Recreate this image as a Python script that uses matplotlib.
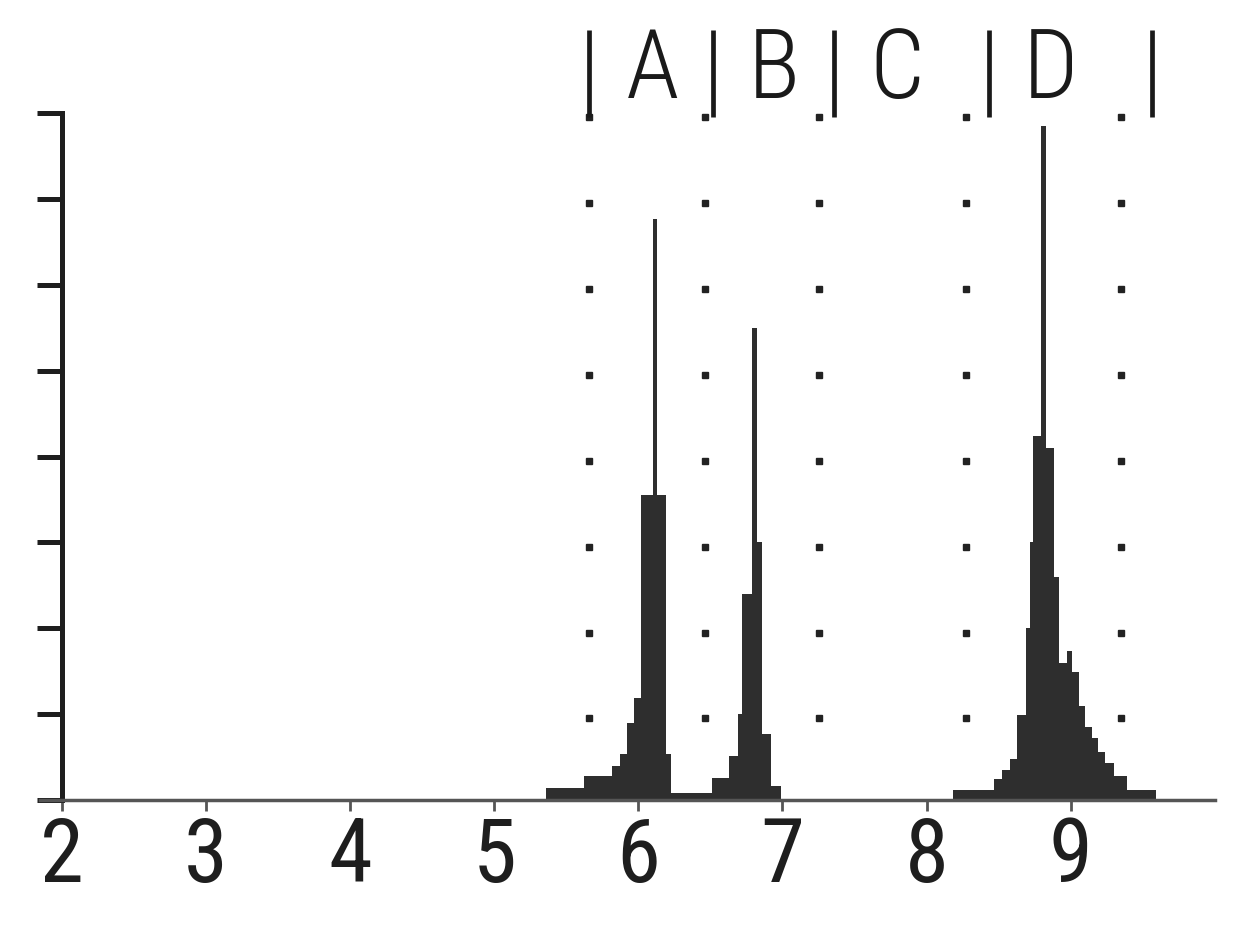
import matplotlib
matplotlib.use("Agg")
import matplotlib.pyplot as plt

# ---- data ----
ab_edges = [5.36, 5.62, 5.82, 5.87, 5.92, 5.97, 6.02, 6.10, 6.13, 6.19, 6.23,
            6.51, 6.63, 6.69, 6.72, 6.79, 6.82, 6.86, 6.92, 6.99]
ab_counts = [0.14, 0.28, 0.40, 0.53, 0.90, 1.19, 3.55, 6.77, 3.55, 0.53, 0.08,
             0.26, 0.51, 1.00, 2.40, 5.50, 3.00, 0.77, 0.16]
d_edges = [8.18, 8.47, 8.52, 8.58, 8.63, 8.69, 8.72, 8.74, 8.79, 8.83, 8.88,
           8.92, 8.97, 9.01, 9.06, 9.10, 9.15, 9.19, 9.24, 9.30, 9.39, 9.59]
d_counts = [0.12, 0.24, 0.35, 0.48, 0.99, 2.00, 3.00, 4.24, 7.85, 4.10, 2.60,
            1.60, 1.74, 1.49, 1.10, 0.85, 0.72, 0.56, 0.43, 0.28, 0.12]

x_ticks = [2, 3, 4, 5, 6, 7, 8, 9]
x_tick_labels = ["2", "3", "4", "5", "6", "7", "8", "9"]
y_ticks = [0, 1, 2, 3, 4, 5, 6, 7, 8]

divider_x = [5.66, 6.46, 7.25, 8.27, 9.35]
dot_levels = [0.95, 1.95, 2.95, 3.95, 4.95, 5.95, 6.95, 7.95]

header_letters = ["A", "B", "C", "D"]
header_letter_x = [6.10, 6.94, 7.79, 8.86]
header_bar_x = [5.66, 6.52, 7.36, 8.43, 9.56]

# ---- figure ----
W, H = 1248, 932
fig = plt.figure(figsize=(W / 100, H / 100), dpi=100)
ax = fig.add_axes([40 / W, 132 / H, 1175 / W, 687 / H])
ax.set_xlim(1.85, 10.0)
ax.set_ylim(0, 8)

bar_color = "#2e2e2e"
ax.stairs(ab_counts, ab_edges, fill=True, color=bar_color, lw=0)
ax.stairs(d_counts, d_edges, fill=True, color=bar_color, lw=0)

# dotted dividers
for xv in divider_x:
    ax.plot([xv] * len(dot_levels), dot_levels, linestyle="none", marker="s",
            ms=4, color="#222222", clip_on=False)

# header separators and letters
ax.vlines(header_bar_x, 7.95, 8.97, colors="#1a1a1a", lw=3.4, clip_on=False)
fam = ["Liberation Sans Narrow", "DejaVu Sans Condensed", "Roboto Condensed",
       "DejaVu Sans"]
for lx, lt in zip(header_letter_x, header_letters):
    ax.text(lx, 8.48, lt, ha="center", va="center", fontsize=70,
            family=fam, stretch="condensed", weight="light",
            color="#1a1a1a", clip_on=False)

# spines
for s in ["top", "right"]:
    ax.spines[s].set_visible(False)
ax.spines["left"].set_position(("data", 2))
ax.spines["left"].set_linewidth(3.6)
ax.spines["left"].set_color("#1e1e1e")
ax.spines["bottom"].set_linewidth(2.5)
ax.spines["bottom"].set_color("#555555")

ax.set_yticks(y_ticks)
ax.tick_params(axis="y", direction="out", length=18, width=3.6,
               color="#1e1e1e", labelleft=False)
ax.set_xticks(x_ticks)
ax.set_xticklabels(x_tick_labels, family=fam, stretch="condensed",
                   fontsize=64, weight="normal", color="#1e1e1e")
ax.tick_params(axis="x", direction="out", length=8, width=2,
               color="#555555", pad=3)

fig.savefig("out.png", dpi=100, facecolor="white")
